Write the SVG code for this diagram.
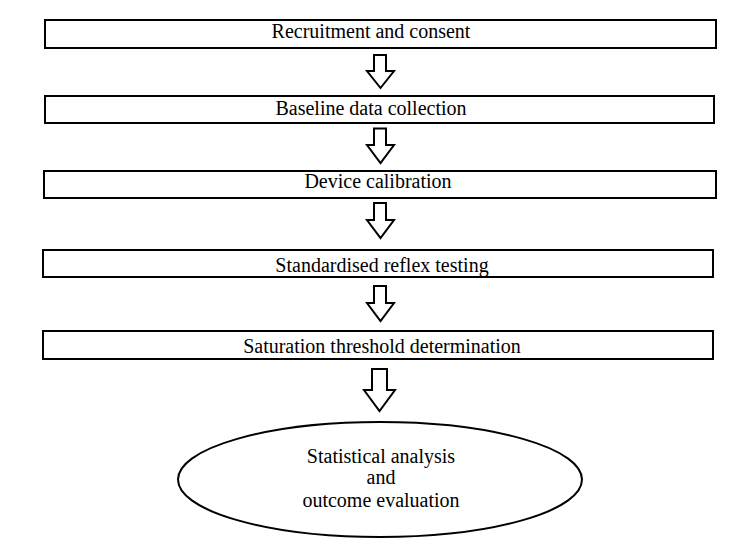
<svg xmlns="http://www.w3.org/2000/svg" width="750" height="553" viewBox="0 0 750 553">
<style>
.box{fill:#fff;stroke:#000;stroke-width:2}
.arr{fill:#fff;stroke:#000;stroke-width:2;stroke-linejoin:miter}
.t{font-family:"Liberation Serif","Times New Roman",serif;font-size:20px;fill:#000;text-anchor:middle}
</style>
<rect width="750" height="553" fill="#fff"/>
<g id="connectors">
<polygon class="arr" points="374,55 386,55 386,71 394,71 380.5,88 367,71 374,71"/>
<polygon class="arr" points="374,128.5 386,128.5 386,145 394,145 380.5,163 367,145 374,145"/>
<polygon class="arr" points="374,203 386,203 386,220 394,220 380.5,238 367,220 374,220"/>
<polygon class="arr" points="374,286 386,286 386,303 394,303 380.5,321 367,303 374,303"/>
<polygon class="arr" points="372,369 387,369 387,390 395,390 379.5,411 364,390 372,390"/>
</g>
<g id="n1"><rect class="box" x="45" y="20" width="671" height="28"/><text class="t" x="371" y="38">Recruitment and consent</text></g>
<g id="n2"><rect class="box" x="45" y="96" width="669" height="27"/><text class="t" x="371" y="115">Baseline data collection</text></g>
<g id="n3"><rect class="box" x="44" y="171" width="672" height="27"/><text class="t" x="378" y="188">Device calibration</text></g>
<g id="n4"><rect class="box" x="43" y="250" width="670" height="27"/><text class="t" x="382" y="272">Standardised reflex testing</text></g>
<g id="n5"><rect class="box" x="43" y="331" width="670" height="28"/><text class="t" x="382" y="353">Saturation threshold determination</text></g>
<g id="n6"><ellipse class="box" cx="380" cy="479.5" rx="202" ry="57.5"/>
<text class="t" x="381" y="463">Statistical analysis</text>
<text class="t" x="381" y="484">and</text>
<text class="t" x="381" y="507">outcome evaluation</text></g>
</svg>
